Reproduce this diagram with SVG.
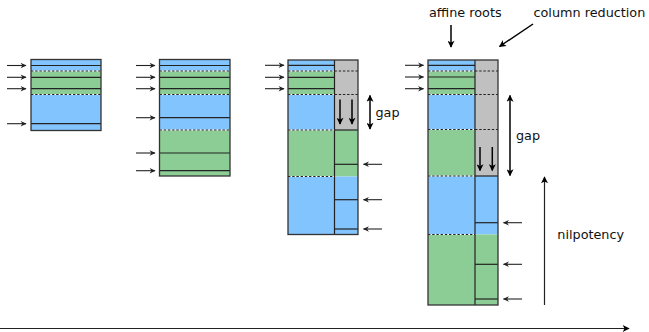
<svg xmlns="http://www.w3.org/2000/svg" width="649" height="332" viewBox="0 0 649 332">
<defs>
  <marker id="ah" viewBox="0 0 10 10" markerUnits="userSpaceOnUse" markerWidth="7" markerHeight="6" refX="9" refY="5" orient="auto">
    <path d="M0,0.5 L10,5 L0,9.5 L3,5 z" fill="#222"/>
  </marker>
  <marker id="bh" viewBox="0 0 10 10" markerUnits="userSpaceOnUse" markerWidth="8" markerHeight="7" refX="9" refY="5" orient="auto-start-reverse">
    <path d="M0,0 L10,5 L0,10 L2.5,5 z" fill="#000"/>
  </marker>
</defs>
<style>
  .b{fill:#82c4fd}
  .g{fill:#8ccd95}
  .y{fill:#c0c0c0}
  .o{fill:none;stroke:#333;stroke-width:1.3}
  .s{stroke:#222;stroke-width:1.2}
  .dw{stroke:#fff;stroke-width:1.2}
  .d{stroke:#222;stroke-width:1.2;stroke-dasharray:2.4,1.8}
  .in{stroke:#222;stroke-width:1.1;fill:none;marker-end:url(#ah)}
  .big{stroke:#000;stroke-width:1.5;fill:none;marker-end:url(#bh)}
  .dbl{stroke:#000;stroke-width:1.5;fill:none;marker-start:url(#bh);marker-end:url(#bh)}
  .ax{stroke:#222;stroke-width:1.2;fill:none;marker-end:url(#bh)}
  text{font-family:"DejaVu Sans","Liberation Sans",sans-serif;font-size:12.8px;fill:#111}
</style>

<g id="block1">
  <rect class="b" x="31" y="59.5" width="70" height="11.5"/>
  <rect class="g" x="31" y="71" width="70" height="23.5"/>
  <rect class="b" x="31" y="94.5" width="70" height="36"/>
  <line class="s" x1="31" y1="65.5" x2="101" y2="65.5"/>
  <line class="s" x1="31" y1="77.3" x2="101" y2="77.3"/>
  <line class="s" x1="31" y1="88.7" x2="101" y2="88.7"/>
  <line class="s" x1="31" y1="123.7" x2="101" y2="123.7"/>
  <line class="dw" x1="31" y1="71" x2="101" y2="71"/>
  <line class="d" x1="31" y1="71" x2="101" y2="71"/>
  <line class="dw" x1="31" y1="94.5" x2="101" y2="94.5"/>
  <line class="d" x1="31" y1="94.5" x2="101" y2="94.5"/>
  <rect class="o" x="31" y="59.5" width="70" height="71"/>
</g>

<g id="block2">
  <rect class="b" x="159.5" y="59.5" width="70.5" height="11.5"/>
  <rect class="g" x="159.5" y="71" width="70.5" height="23.5"/>
  <rect class="b" x="159.5" y="94.5" width="70.5" height="35.5"/>
  <rect class="g" x="159.5" y="130" width="70.5" height="46"/>
  <line class="s" x1="159.5" y1="65.5" x2="230" y2="65.5"/>
  <line class="s" x1="159.5" y1="77.3" x2="230" y2="77.3"/>
  <line class="s" x1="159.5" y1="88.7" x2="230" y2="88.7"/>
  <line class="s" x1="159.5" y1="117.7" x2="230" y2="117.7"/>
  <line class="s" x1="159.5" y1="153" x2="230" y2="153"/>
  <line class="s" x1="159.5" y1="170.7" x2="230" y2="170.7"/>
  <line class="dw" x1="159.5" y1="71" x2="230" y2="71"/>
  <line class="d" x1="159.5" y1="71" x2="230" y2="71"/>
  <line class="dw" x1="159.5" y1="94.5" x2="230" y2="94.5"/>
  <line class="d" x1="159.5" y1="94.5" x2="230" y2="94.5"/>
  <line class="dw" x1="159.5" y1="130" x2="230" y2="130"/>
  <line class="d" x1="159.5" y1="130" x2="230" y2="130"/>
  <rect class="o" x="159.5" y="59.5" width="70.5" height="116.5"/>
</g>

<g id="block3">
  <rect class="b" x="288" y="60" width="46.5" height="11"/>
  <rect class="g" x="288" y="71" width="46.5" height="23.5"/>
  <rect class="b" x="288" y="94.5" width="46.5" height="35.5"/>
  <rect class="g" x="288" y="130" width="46.5" height="46.5"/>
  <rect class="b" x="288" y="176.5" width="46.5" height="58"/>
  <rect class="y" x="334.5" y="60" width="23.5" height="70"/>
  <rect class="g" x="334.5" y="130" width="23.5" height="46.5"/>
  <rect class="b" x="334.5" y="176.5" width="23.5" height="58"/>
  <line class="s" x1="288" y1="65.3" x2="334.5" y2="65.3"/>
  <line class="s" x1="288" y1="77.3" x2="334.5" y2="77.3"/>
  <line class="s" x1="288" y1="88.7" x2="334.5" y2="88.7"/>
  <line class="dw" x1="288" y1="71" x2="334.5" y2="71"/>
  <line class="d" x1="288" y1="71" x2="334.5" y2="71"/>
  <line class="dw" x1="288" y1="94.5" x2="334.5" y2="94.5"/>
  <line class="d" x1="288" y1="94.5" x2="334.5" y2="94.5"/>
  <line class="dw" x1="288" y1="130" x2="334.5" y2="130"/>
  <line class="d" x1="288" y1="130" x2="334.5" y2="130"/>
  <line class="dw" x1="288" y1="176.5" x2="334.5" y2="176.5"/>
  <line class="d" x1="288" y1="176.5" x2="334.5" y2="176.5"/>
  <line class="d" x1="334.5" y1="71" x2="358" y2="71"/>
  <line class="d" x1="334.5" y1="94.5" x2="358" y2="94.5"/>
  <line class="s" x1="334.5" y1="130" x2="358" y2="130"/>
  <line class="s" x1="334.5" y1="164.3" x2="358" y2="164.3"/>
  <line class="s" x1="334.5" y1="199.7" x2="358" y2="199.7"/>
  <line class="s" x1="334.5" y1="229" x2="358" y2="229"/>
  <line class="s" x1="334.5" y1="60" x2="334.5" y2="234.5"/>
  <rect class="o" x="288" y="60" width="70" height="174.5"/>
</g>

<g id="block4">
  <rect class="b" x="428" y="60" width="47" height="11"/>
  <rect class="g" x="428" y="71" width="47" height="23.5"/>
  <rect class="b" x="428" y="94.5" width="47" height="35"/>
  <rect class="g" x="428" y="129.5" width="47" height="46.5"/>
  <rect class="b" x="428" y="176" width="47" height="58.5"/>
  <rect class="g" x="428" y="234.5" width="47" height="70.5"/>
  <rect class="y" x="475" y="60" width="23" height="116"/>
  <rect class="b" x="475" y="176" width="23" height="58.5"/>
  <rect class="g" x="475" y="234.5" width="23" height="70.5"/>
  <line class="s" x1="428" y1="65.3" x2="475" y2="65.3"/>
  <line class="s" x1="428" y1="77" x2="475" y2="77"/>
  <line class="s" x1="428" y1="88.7" x2="475" y2="88.7"/>
  <line class="dw" x1="428" y1="71" x2="475" y2="71"/>
  <line class="d" x1="428" y1="71" x2="475" y2="71"/>
  <line class="dw" x1="428" y1="94.5" x2="475" y2="94.5"/>
  <line class="d" x1="428" y1="94.5" x2="475" y2="94.5"/>
  <line class="dw" x1="428" y1="129.5" x2="475" y2="129.5"/>
  <line class="d" x1="428" y1="129.5" x2="475" y2="129.5"/>
  <line class="dw" x1="428" y1="176" x2="475" y2="176"/>
  <line class="d" x1="428" y1="176" x2="475" y2="176"/>
  <line class="dw" x1="428" y1="234.5" x2="475" y2="234.5"/>
  <line class="d" x1="428" y1="234.5" x2="475" y2="234.5"/>
  <line class="d" x1="475" y1="71" x2="498" y2="71"/>
  <line class="d" x1="475" y1="94.5" x2="498" y2="94.5"/>
  <line class="d" x1="475" y1="129.5" x2="498" y2="129.5"/>
  <line class="s" x1="475" y1="176" x2="498" y2="176"/>
  <line class="s" x1="475" y1="222.7" x2="498" y2="222.7"/>
  <line class="s" x1="475" y1="264.3" x2="498" y2="264.3"/>
  <line class="s" x1="475" y1="299" x2="498" y2="299"/>
  <line class="s" x1="475" y1="60" x2="475" y2="305"/>
  <rect class="o" x="428" y="60" width="70" height="245"/>
</g>

<g id="labels">
  <text x="429" y="17">affine roots</text>
  <text x="533.5" y="17">column reduction</text>
  <text x="375.5" y="116.5">gap</text>
  <text x="516" y="140">gap</text>
  <text x="557.3" y="239">nilpotency</text>
</g>

<g id="connectors">
  <line class="in" x1="7" y1="65.5" x2="26" y2="65.5"/>
  <line class="in" x1="7" y1="77.3" x2="26" y2="77.3"/>
  <line class="in" x1="7" y1="88.7" x2="26" y2="88.7"/>
  <line class="in" x1="7" y1="123.7" x2="26" y2="123.7"/>

  <line class="in" x1="136" y1="65.5" x2="155" y2="65.5"/>
  <line class="in" x1="136" y1="77.3" x2="155" y2="77.3"/>
  <line class="in" x1="136" y1="88.7" x2="155" y2="88.7"/>
  <line class="in" x1="136" y1="117.7" x2="155" y2="117.7"/>
  <line class="in" x1="136" y1="153" x2="155" y2="153"/>
  <line class="in" x1="136" y1="170.7" x2="155" y2="170.7"/>

  <line class="in" x1="265" y1="65.3" x2="284" y2="65.3"/>
  <line class="in" x1="265" y1="77.3" x2="284" y2="77.3"/>
  <line class="in" x1="265" y1="88.7" x2="284" y2="88.7"/>
  <line class="in" x1="382" y1="164.3" x2="363.5" y2="164.3"/>
  <line class="in" x1="382" y1="199.7" x2="363.5" y2="199.7"/>
  <line class="in" x1="382" y1="229" x2="363.5" y2="229"/>

  <line class="in" x1="405" y1="65.3" x2="423.5" y2="65.3"/>
  <line class="in" x1="405" y1="77" x2="423.5" y2="77"/>
  <line class="in" x1="405" y1="88.7" x2="423.5" y2="88.7"/>
  <line class="in" x1="522" y1="222.7" x2="503.5" y2="222.7"/>
  <line class="in" x1="522" y1="264.3" x2="503.5" y2="264.3"/>
  <line class="in" x1="522" y1="299" x2="503.5" y2="299"/>

  <line class="big" x1="340" y1="99.5" x2="340" y2="124"/>
  <line class="big" x1="352" y1="99.5" x2="352" y2="124"/>
  <line class="dbl" x1="370" y1="95.5" x2="370" y2="129"/>

  <line class="big" x1="480" y1="147" x2="480" y2="170.5"/>
  <line class="big" x1="492.3" y1="147" x2="492.3" y2="170.5"/>
  <line class="dbl" x1="510" y1="95.5" x2="510" y2="175.5"/>

  <line class="big" x1="451" y1="25" x2="451" y2="47"/>
  <line class="big" x1="533" y1="24" x2="499.5" y2="46.5"/>
  <line class="ax" x1="544.5" y1="305" x2="544.5" y2="177"/>
  <line class="ax" x1="0" y1="328.5" x2="629" y2="328.5"/>
</g>
</svg>
